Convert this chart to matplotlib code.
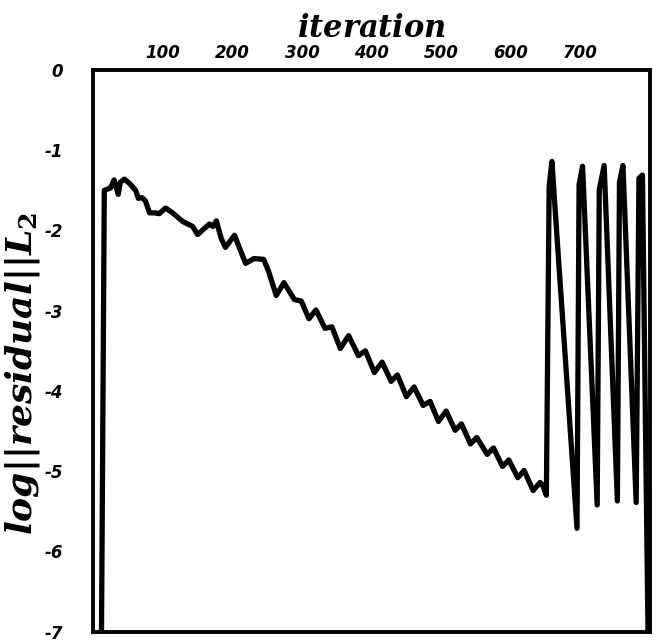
import matplotlib
matplotlib.use("Agg")
import matplotlib.pyplot as plt

# Convergence history: log of the L2 norm of the residual vs. iteration
iteration = [
    12, 16, 25, 30, 36, 39, 45, 53, 61, 65, 70, 75, 81, 88, 95, 104, 114,
    129, 143, 150, 167, 172, 177, 184, 190, 203, 219, 231, 245, 252, 263,
    274, 289, 299, 310, 320, 333, 343, 355, 367, 381, 391, 404, 415, 428,
    437, 450, 461, 474, 484, 496, 507, 520, 529, 542, 551, 566, 575, 588,
    597, 610, 619, 632, 642, 646, 651,
    655, 659, 665, 695, 698, 703, 724, 727, 734, 753, 756, 761, 780, 784,
    789, 797,
]
log_residual = [
    -7.00, -1.50, -1.47, -1.37, -1.55, -1.40, -1.36, -1.42, -1.50, -1.60,
    -1.59, -1.63, -1.78, -1.78, -1.79, -1.72, -1.78, -1.89, -1.95, -2.05,
    -1.92, -1.95, -1.88, -2.10, -2.21, -2.06, -2.41, -2.35, -2.36, -2.51,
    -2.81, -2.65, -2.86, -2.88, -3.10, -2.99, -3.22, -3.20, -3.47, -3.31,
    -3.56, -3.50, -3.77, -3.64, -3.88, -3.80, -4.07, -3.95, -4.18, -4.13,
    -4.38, -4.25, -4.49, -4.41, -4.66, -4.58, -4.79, -4.71, -4.94, -4.86,
    -5.08, -4.99, -5.24, -5.14, -5.18, -5.30,
    -1.45, -1.14, -1.92, -5.71, -1.43, -1.20, -5.42, -1.49, -1.19, -5.37,
    -1.40, -1.19, -5.39, -1.35, -1.31, -7.00,
]

x_ticks = [100, 200, 300, 400, 500, 600, 700]
y_ticks = [0, -1, -2, -3, -4, -5, -6, -7]

plt.rcParams["axes.unicode_minus"] = False
plt.rcParams["mathtext.fontset"] = "custom"
plt.rcParams["mathtext.it"] = "DejaVu Serif:italic:bold"
plt.rcParams["mathtext.rm"] = "DejaVu Serif:bold"
plt.rcParams["mathtext.bf"] = "DejaVu Serif:italic:bold"

fig = plt.figure(figsize=(6.56, 6.42), dpi=100)
ax = fig.add_axes([0.142, 0.016, 0.849, 0.875])

ax.plot(iteration, log_residual, color="black", lw=3.8,
        solid_joinstyle="round", solid_capstyle="round")

ax.set_xlim(0, 800)
ax.set_ylim(-7, 0)

ax.xaxis.tick_top()
ax.xaxis.set_label_position("top")
ax.set_xticks(x_ticks)
ax.set_yticks(y_ticks)
ax.tick_params(axis="both", length=0)
ax.tick_params(axis="x", pad=6)
ax.tick_params(axis="y", pad=22)

tick_font = dict(family="DejaVu Sans", weight="bold", style="italic", size=12)
ax.set_xticklabels([str(v) for v in x_ticks], fontdict=tick_font)
ax.set_yticklabels([str(v) for v in y_ticks], fontdict=tick_font)

ax.set_xlabel(r"$iteration$", fontsize=22, labelpad=5)
ax.set_ylabel(r"$log||residual||L_2$", fontsize=26)
ax.yaxis.set_label_coords(-0.092, 0.46)

for side in ("left", "right", "top", "bottom"):
    ax.spines[side].set_linewidth(2.8)

fig.savefig("out.png", dpi=100, facecolor="white")
